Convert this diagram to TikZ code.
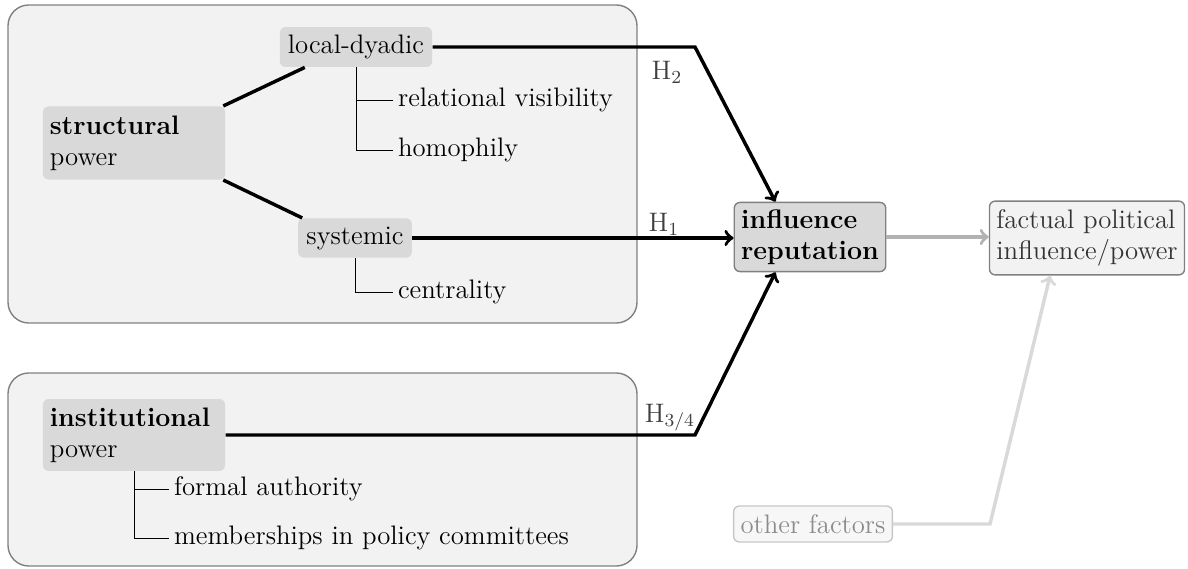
\documentclass[tikz,border=0pt]{standalone}
\usepackage{tikz}
\usetikzlibrary{arrows}

\begin{document}
\begin{tikzpicture}[x=0.4336pt,y=-0.4336pt,
  font=\fontsize{11.6}{13.6}\selectfont,
  frame/.style={draw=black!50,fill=black!5,rounded corners=9pt,semithick},
  concept/.style={fill=black!15,rounded corners=2.5pt,inner sep=3pt},
  target/.style={concept,draw=black!50,semithick,align=left},
  leaf/.style={anchor=west,inner sep=2pt},
  link/.style={line width=1.5pt},
  hyp/.style={->,>=to,line width=1.5pt},
  hlabel/.style={text=black!75}]
\useasboundingbox (0,0) rectangle (1188,569);

% the two groups
\draw[frame] (8,5) rectangle (637,323);
\draw[frame] (8,373) rectangle (637,566);

\node[concept,minimum width=66pt,minimum height=17.3pt] (localdyadic) at (356,47) {local-dyadic};
\node[concept,text width=73pt,minimum height=31.7pt,align=left] (structural) at (134,143) {\textbf{structural}\\power};
\node[concept,minimum width=49.4pt,minimum height=17pt] (systemic) at (355,238) {systemic};
\node[concept,text width=73pt,minimum height=31.2pt,align=left] (institutional) at (134,435) {\textbf{institutional}\\power};

\node[leaf] (relvis)    at (393,100) {relational visibility};
\node[leaf] (homophily) at (393,150) {homophily};
\node[leaf] (centrality) at (393,292) {centrality};
\node[leaf] (formal)    at (169,489) {formal authority};
\node[leaf] (committees) at (169,538) {memberships in policy committees};

\node[target,minimum height=29.5pt] (influence) at (810,237) {\textbf{influence}\\\textbf{reputation}};
\node[target,fill=black!5,text=black!80,minimum height=32pt] (factual) at (1087,238) {factual political\\influence/power};
\node[concept,draw=black!22,fill=black!3,text=black!45,semithick,minimum height=15.6pt] (other) at (813,524) {other factors};

\node[hlabel] (h2) at (667,72) {H$_2$};
\node[hlabel] (h1) at (664,224) {H$_1$};
\node[hlabel] (h34) at (670,418) {H$_{3/4}$};

\coordinate (k2) at (695,47);
\coordinate (k34) at (695,435);
\coordinate (kother) at (990,524);

% branches
\draw[link] ([xshift=-1pt]structural.north east) -- ([xshift=11pt]localdyadic.south west);
\draw[link] ([xshift=-1pt]structural.south east) -- ([xshift=2pt]systemic.north west);
\draw (localdyadic.south) |- (relvis.west);
\draw (localdyadic.south) |- (homophily.west);
\draw (systemic.south) |- (centrality.west);
\draw (institutional.south) |- (formal.west);
\draw (institutional.south) |- (committees.west);

% hypotheses
\draw[hyp] (localdyadic.east) -- (k2) -- ([xshift=-15pt]influence.north);
\draw[hyp] (systemic.east) -- (systemic.east -| influence.west);
\draw[hyp] (institutional.east) -- (k34) -- ([xshift=-15pt]influence.south);
\draw[hyp,black!30] (influence.east) -- (influence.east -| factual.west);
\draw[hyp,black!15] (other.east) -- (kother) -- ([xshift=-16pt]factual.south);

\end{tikzpicture}
\end{document}
